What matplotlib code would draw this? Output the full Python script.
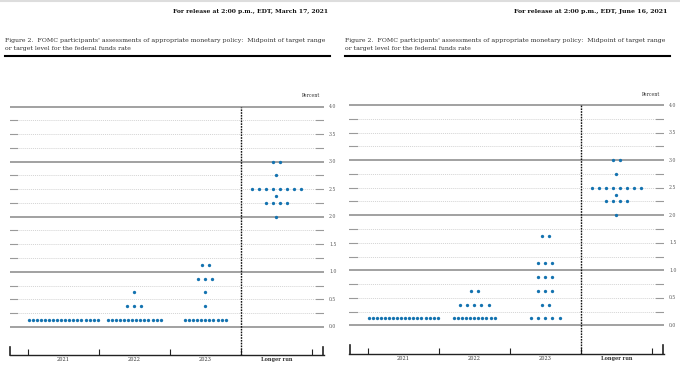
import numpy as np
import matplotlib
matplotlib.use('Agg')
import matplotlib.pyplot as plt

# ==================== DATA ====================
columns = ["2021", "2022", "2023", "Longer run"]

# (midpoint level, number of participants) per column
mar_2021 = [(0.125, 18)]
mar_2022 = [(0.125, 14), (0.375, 3), (0.625, 1)]
mar_2023 = [(0.125, 11), (0.375, 1), (0.625, 1), (0.875, 3), (1.125, 2)]
mar_lr = [(2.0, 1), (2.25, 4), (2.375, 1), (2.5, 8), (2.75, 1), (3.0, 2)]

jun_2021 = [(0.125, 18)]
jun_2022 = [(0.125, 11), (0.375, 5), (0.625, 2)]
jun_2023 = [(0.125, 5), (0.375, 2), (0.625, 3), (0.875, 3), (1.125, 3), (1.625, 2)]
jun_lr = [(2.0, 1), (2.25, 4), (2.375, 1), (2.5, 8), (2.75, 1), (3.0, 2)]

y_levels = np.arange(0, 4.01, 0.25)
y_labels = [0.0, 0.5, 1.0, 1.5, 2.0, 2.5, 3.0, 3.5, 4.0]

header_mar = "For release at 2:00 p.m., EDT, March 17, 2021"
header_jun = "For release at 2:00 p.m., EDT, June 16, 2021"
caption1 = "Figure 2.  FOMC participants' assessments of appropriate monetary policy:  Midpoint of target range"
caption2 = "or target level for the federal funds rate"
# ==============================================

W, H = 680, 366
DOT = '#1473b0'
SERIF = ['DejaVu Serif', 'Liberation Serif']

fig = plt.figure(figsize=(W / 100, H / 100), dpi=100)


def fit_text(txt, target_px):
    # shrink/grow font so the text spans the same width as in the reference
    r = fig.canvas.get_renderer()
    w = txt.get_window_extent(renderer=r).width
    txt.set_fontsize(txt.get_fontsize() * target_px / w)


def panel(x0, dy, header, dots):
    # ---- page header / caption ----
    t = fig.text((x0 + 328) / W, 1 - 11 / H, header, ha='right', va='center',
                 fontsize=5, fontweight='bold', family=SERIF, color='#111111')
    fit_text(t, 158)
    c1 = fig.text((x0 + 5) / W, 1 - 40.5 / H, caption1, ha='left', va='center',
                  fontsize=5, family=SERIF, color='#333333')
    fit_text(c1, 323)
    c2 = fig.text((x0 + 5) / W, 1 - 48.5 / H, caption2, ha='left', va='center',
                  fontsize=c1.get_fontsize(), family=SERIF, color='#333333')
    fig.add_artist(plt.Line2D([(x0 + 5) / W, (x0 + 330) / W], [1 - 56 / H] * 2,
                              color='black', lw=1.5, transform=fig.transFigure))

    # ---- plot area ----
    left, right = x0 + 9.5, x0 + 324
    bot, top = 355 - dy, 104 - dy
    ax = fig.add_axes([left / W, 1 - bot / H, (right - left) / W, (bot - top) / H])
    xmin, xmax = -0.756, 3.669
    ymin, ymax = -0.513, 4.049
    ax.set_xlim(xmin, xmax)
    ax.set_ylim(ymin, ymax)
    for s in ['top', 'left', 'right']:
        ax.spines[s].set_visible(False)
    ax.spines['bottom'].set_color('#222222')
    ax.spines['bottom'].set_linewidth(1.0)
    ax.set_yticks([])

    # horizontal grid
    for v in y_levels:
        if abs(v - round(v)) < 1e-9:
            ax.plot([xmin, xmax], [v, v], color='#9a9a9a', lw=1.3, zorder=1)
        else:
            ax.plot([xmin + 0.1, xmax - 0.11], [v, v], color='#d4d4d4', lw=0.7,
                    ls=(0, (1, 1)), zorder=1)
            ax.plot([xmin, xmin + 0.1], [v, v], color='#9a9a9a', lw=0.8, zorder=1)
            ax.plot([xmax - 0.11, xmax], [v, v], color='#9a9a9a', lw=0.8, zorder=1)
    for v in y_labels:
        ax.text(xmax + 0.07, v, f"{v:.1f}", ha='left', va='center', fontsize=3.3,
                family=SERIF, color='#555555', clip_on=False)
    ax.text(xmax - 0.06, ymax + 0.1, "Percent", ha='right', va='bottom', fontsize=3.3,
            family=SERIF, color='#333333', clip_on=False)

    # longer-run separator
    ax.plot([2.5, 2.5], [ymin, 4.0], color='#111111', lw=1.0, ls=(0, (1.2, 0.8)), zorder=2)

    # bottom axis ticks
    ax.set_xticks([-0.5, 0.5, 1.5, 2.5, 3.5])
    ax.set_xticklabels([])
    ax.tick_params(axis='x', which='major', direction='in', length=4, width=0.8,
                   color='#222222')
    for xe in (xmin + 0.01, xmax - 0.01):
        ax.plot([xe, xe], [ymin, ymin + 0.15], color='#222222', lw=1.2, clip_on=False)
    ax.set_xticks(range(len(columns)), columns, minor=True)
    ax.tick_params(axis='x', which='minor', length=0, pad=1.5, labelsize=3.6,
                   labelcolor='#333333')
    for lab in ax.get_xticklabels(minor=True):
        lab.set_family(SERIF)
    ax.get_xticklabels(minor=True)[-1].set_fontweight('bold')

    # dots
    for i, col in enumerate(dots):
        for level, n in col:
            step = 0.1 if n <= 9 else 0.057
            xs = i + (np.arange(n) - (n - 1) / 2) * step
            ax.plot(xs, [level] * n, 'o', color=DOT, ms=2.4, mew=0, zorder=3)


panel(0, 0, header_mar, [mar_2021, mar_2022, mar_2023, mar_lr])
panel(340, 1.5, header_jun, [jun_2021, jun_2022, jun_2023, jun_lr])

# faint page edge at the very top
fig.add_artist(plt.Line2D([0, 1], [1 - 1 / H] * 2, color='#dddddd', lw=1.5,
                          transform=fig.transFigure))

fig.savefig('out.png', dpi=100, facecolor='white')
